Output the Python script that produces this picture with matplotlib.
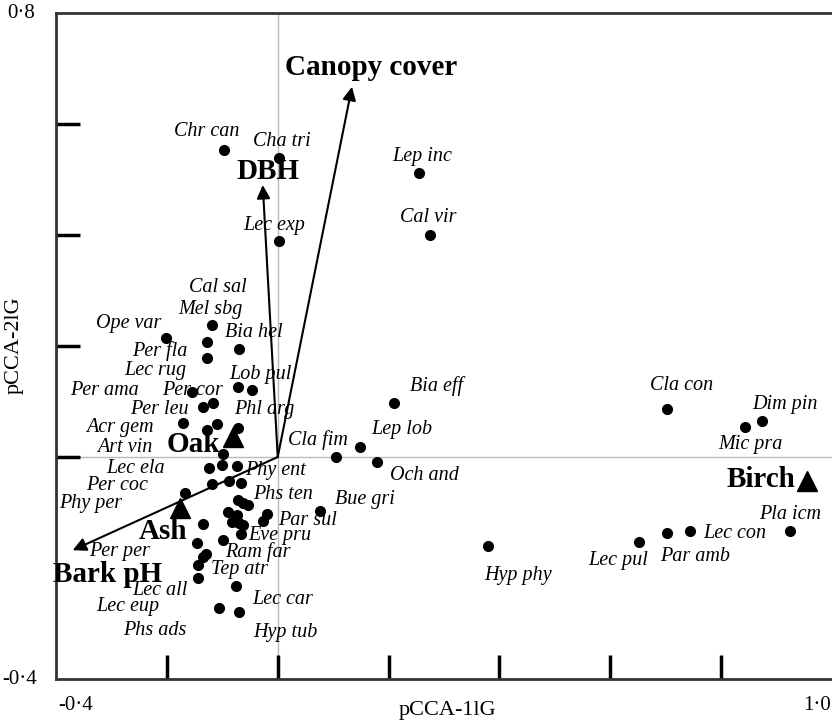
import matplotlib
matplotlib.use('Agg')
import matplotlib.pyplot as plt
import numpy as np

plt.rcParams['font.family'] = ['Liberation Serif', 'DejaVu Serif']

# species scores (pCCA-1, pCCA-2)
sp_x = [-0.097, 0.002, 0.254, 0.274, 0.002, -0.202, -0.119, -0.128, -0.128, -0.069,
        -0.155, -0.072, -0.047, -0.135, -0.117, -0.171, -0.128, -0.110, -0.072, -0.099,
        0.105, 0.148, 0.180, 0.209, 0.076, 0.379, 0.702, 0.843, 0.873, 0.924,
        0.743, 0.702, 0.651,
        -0.124, -0.101, -0.074, -0.119, -0.087, -0.067, -0.168, -0.072, -0.063, -0.054,
        -0.090, -0.074, -0.020, -0.027, -0.083, -0.069, -0.063, -0.135, -0.067, -0.146,
        -0.099, -0.130, -0.135, -0.143, -0.144, -0.076, -0.106, -0.069]
sp_y = [0.553, 0.539, 0.512, 0.400, 0.389, 0.214, 0.238, 0.207, 0.178, 0.195,
        0.117, 0.126, 0.121, 0.090, 0.097, 0.061, 0.049, 0.059, 0.052, 0.005,
        0.000, 0.018, -0.009, 0.097, -0.097, -0.160, 0.086, 0.054, 0.065, -0.133,
        -0.133, -0.137, -0.153,
        -0.020, -0.014, -0.016, -0.049, -0.043, -0.047, -0.065, -0.077, -0.083, -0.086,
        -0.099, -0.105, -0.103, -0.115, -0.117, -0.119, -0.123, -0.121, -0.139, -0.155,
        -0.150, -0.175, -0.180, -0.195, -0.218, -0.232, -0.272, -0.279]

# species labels and where they sit
sp_names = ['Chr can', 'Cha tri', 'Lep inc', 'Cal vir', 'Lec exp', 'Cal sal', 'Mel sbg',
            'Ope var', 'Bia hel', 'Per fla', 'Lec rug', 'Lob pul', 'Per ama', 'Per cor',
            'Per leu', 'Phl arg', 'Acr gem', 'Art vin', 'Cla fim', 'Lep lob', 'Bia eff',
            'Cla con', 'Dim pin', 'Mic pra', 'Pla icm', 'Lec con', 'Par amb', 'Lec pul',
            'Hyp phy', 'Och and', 'Bue gri', 'Par sul', 'Phs ten', 'Phy ent', 'Lec ela',
            'Per coc', 'Phy per', 'Eve pru', 'Ram far', 'Per per', 'Tep atr', 'Lec all',
            'Lec car', 'Lec eup', 'Phs ads', 'Hyp tub']
lab_x = [-0.128, 0.007, 0.260, 0.271, -0.007, -0.108, -0.121,
         -0.269, -0.043, -0.213, -0.220, -0.032, -0.312, -0.153,
         -0.213, -0.025, -0.285, -0.276, 0.072, 0.224, 0.287,
         0.729, 0.916, 0.852, 0.924, 0.825, 0.753, 0.615,
         0.433, 0.265, 0.157, 0.054, 0.009, -0.004, -0.256,
         -0.290, -0.337, 0.004, -0.036, -0.285, -0.069, -0.213,
         0.009, -0.271, -0.222, 0.014]
lab_y = [0.587, 0.569, 0.542, 0.432, 0.418, 0.305, 0.265,
         0.240, 0.224, 0.191, 0.155, 0.148, 0.119, 0.119,
         0.085, 0.085, 0.054, 0.018, 0.031, 0.049, 0.128,
         0.128, 0.095, 0.022, -0.103, -0.137, -0.179, -0.186,
         -0.213, -0.034, -0.076, -0.115, -0.067, -0.025, -0.020,
         -0.052, -0.083, -0.142, -0.172, -0.171, -0.202, -0.240,
         -0.256, -0.270, -0.312, -0.317]

# tree species centroids
tree_names = ['Oak', 'Ash', 'Birch']
tree_x = [-0.081, -0.177, 0.954]
tree_y = [0.036, -0.092, -0.043]
tree_lab_x = [-0.152, -0.207, 0.872]
tree_lab_y = [0.022, -0.135, -0.041]

# environmental vectors
env_names = ['Canopy cover', 'DBH', 'Bark pH']
env_x = [0.134, -0.027, -0.370]
env_y = [0.667, 0.490, -0.168]
env_lab_x = [0.168, -0.018, -0.307]
env_lab_y = [0.701, 0.514, -0.211]

fig = plt.figure(figsize=(8.32, 7.23), dpi=100)
ax = fig.add_axes([56/832, 1 - 679/723, 1 - 56/832, 666/723])
ax.set_xlim(-0.4, 1.0)
ax.set_ylim(-0.4, 0.8)

ax.axhline(0, color='#bbbbbb', lw=1, zorder=0)
ax.axvline(0, color='#bbbbbb', lw=1, zorder=0)

ax.plot(sp_x, sp_y, 'o', color='black', ms=7, zorder=3)
ax.plot(tree_x, tree_y, '^', color='black', ms=15, zorder=3)

for n, x, y in zip(sp_names, lab_x, lab_y):
    ax.text(x, y, n, fontsize=14.5, style='italic', ha='center', va='center', zorder=4)
for n, x, y in zip(tree_names, tree_lab_x, tree_lab_y):
    ax.text(x, y, n, fontsize=21, weight='bold', ha='center', va='center', zorder=4)

for n, x, y, lx, ly in zip(env_names, env_x, env_y, env_lab_x, env_lab_y):
    ax.annotate('', xy=(x, y), xytext=(0, 0),
                arrowprops=dict(arrowstyle='-|>', color='black', lw=1.5,
                                mutation_scale=20, shrinkA=0, shrinkB=0), zorder=2)
    ax.text(lx, ly, n, fontsize=21, weight='bold', ha='center', va='center', zorder=4)

for s in ['left', 'bottom', 'top']:
    ax.spines[s].set_linewidth(2)
    ax.spines[s].set_color('#333333')
ax.spines['right'].set_visible(False)

ax.set_xticks([-0.2, 0.0, 0.2, 0.4, 0.6, 0.8])
ax.set_yticks([0.0, 0.2, 0.4, 0.6])
ax.tick_params(direction='in', length=17, width=2.5, labelleft=False, labelbottom=False)

fig.text(21/832, 1 - 14/723, '0·8', fontsize=15, ha='center', va='center')
fig.text(20/832, 1 - 679/723, '-0·4', fontsize=15, ha='center', va='center')
fig.text(76/832, 1 - 706/723, '-0·4', fontsize=15, ha='center', va='center')
fig.text(831/832, 1 - 706/723, '1·0', fontsize=15, ha='right', va='center')
fig.text(447/832, 1 - 710/723, 'pCCA-1lG', fontsize=16, ha='center', va='center')
fig.text(14/832, 1 - 345/723, 'pCCA-2lG', fontsize=16, ha='center', va='center', rotation=90)

fig.savefig('out.png', dpi=100)
